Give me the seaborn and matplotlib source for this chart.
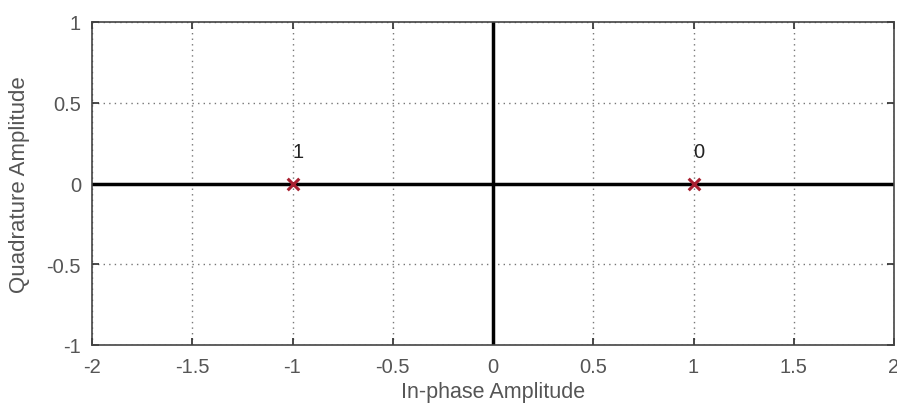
import matplotlib
matplotlib.use("Agg")
import matplotlib.pyplot as plt
import seaborn as sns
import pandas as pd

# Data
inphase = [1.0, -1.0]
quadrature = [0.0, 0.0]
symbol_labels = ["0", "1"]
x_ticks = [-2, -1.5, -1, -0.5, 0, 0.5, 1, 1.5, 2]
x_tick_labels = ["-2", "-1.5", "-1", "-0.5", "0", "0.5", "1", "1.5", "2"]
y_ticks = [-1, -0.5, 0, 0.5, 1]
y_tick_labels = ["-1", "-0.5", "0", "0.5", "1"]

df = pd.DataFrame({"I": inphase, "Q": quadrature, "label": symbol_labels})

sns.set_theme(style="white")
plt.rcParams["font.family"] = ["Liberation Sans", "DejaVu Sans"]

fig = plt.figure(figsize=(8.97, 4.06), dpi=100)
ax = fig.add_axes([92 / 897, 60 / 406, 802 / 897, 323 / 406])

ax.axhline(0, color="black", lw=2.5, zorder=2)
ax.axvline(0, color="black", lw=2.5, zorder=2)

sns.scatterplot(data=df, x="I", y="Q", marker="x", s=70, color="#a82030",
                linewidth=2.2, ax=ax, zorder=3, legend=False)

for xi, yi, lab in zip(df["I"], df["Q"], df["label"]):
    ax.text(xi, yi + 0.2, lab, ha="left", va="center", fontsize=14.5,
            color="#222222")

ax.set_xlim(-2, 2)
ax.set_ylim(-1, 1)
ax.set_xticks(x_ticks)
ax.set_xticklabels(x_tick_labels)
ax.set_yticks(y_ticks)
ax.set_yticklabels(y_tick_labels)
ax.grid(True, linestyle=(0, (1, 3)), color="#777777", linewidth=1)
ax.tick_params(direction="in", length=5, color="#333333", labelsize=14.5,
               labelcolor="#555555", top=True, right=True, bottom=True, left=True)
ax.tick_params(axis="x", pad=9)
ax.tick_params(axis="y", pad=8)
for sp in ax.spines.values():
    sp.set_color("#444444")
    sp.set_linewidth(1.2)
    sp.set_visible(True)

ax.set_xlabel("In-phase Amplitude", fontsize=15.5, color="#555555", labelpad=3)
ax.set_ylabel("Quadrature Amplitude", fontsize=16, color="#555555", labelpad=12)

fig.savefig("out.png", dpi=100)
